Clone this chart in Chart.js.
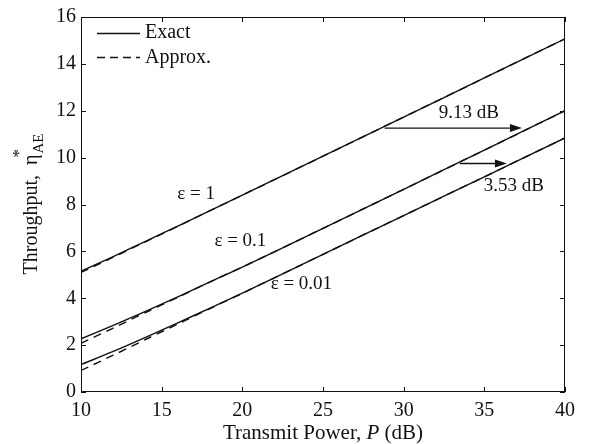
<!DOCTYPE html>
<html>
<head>
<meta charset="utf-8">
<script src="https://cdn.jsdelivr.net/npm/chart.js@4/dist/chart.umd.min.js"></script>
<style>
html,body{margin:0;padding:0;background:#fff;}
canvas{display:block;}
</style>
</head>
<body>
<canvas id="c" width="594" height="444"></canvas>
<script>
// ---- data ----
const powerDb = [10, 12, 14, 16, 18, 20, 25, 30, 35, 40];
const exactEps1   = [5.15, 5.78, 6.43, 7.08, 7.74, 8.40, 10.06, 11.73, 13.40, 15.07];
const exactEps01  = [2.27, 2.84, 3.44, 4.06, 4.70, 5.33, 6.98, 8.65, 10.32, 12.00];
const exactEps001 = [1.17, 1.73, 2.33, 2.95, 3.58, 4.22, 5.87, 7.53, 9.18, 10.84];
const approxEps1   = [5.10, 5.75, 6.41, 7.07, 7.74, 8.40, 10.06, 11.73, 13.40, 15.07];
const approxEps01  = [2.08, 2.73, 3.39, 4.04, 4.70, 5.33, 6.98, 8.65, 10.32, 12.00];
const approxEps001 = [0.92, 1.57, 2.24, 2.90, 3.56, 4.21, 5.87, 7.53, 9.18, 10.84];
const xTicks = [10, 15, 20, 25, 30, 35, 40];
const yTicks = [0, 2, 4, 6, 8, 10, 12, 14, 16];
const curveLabels = [
  {text: 'ε = 1', x: 17.14, y: 8.45},
  {text: 'ε = 0.1', x: 19.88, y: 6.43},
  {text: 'ε = 0.01', x: 23.66, y: 4.62},
  {text: '9.13 dB', x: 34.04, y: 11.89},
  {text: '3.53 dB', x: 36.83, y: 8.78}
];
const arrows = [
  {x0: 28.82, x1: 37.33, y: 11.26},
  {x0: 33.48, x1: 36.40, y: 9.75}
];

const FONT = '"Liberation Serif", "Times New Roman", serif';
const pts = arr => powerDb.map((x, i) => ({x: x, y: arr[i]}));
const solid = (arr) => ({data: pts(arr), borderColor: '#111', borderWidth: 1.4, pointRadius: 0, fill: false, tension: 0.3});
const dashed = (arr) => ({data: pts(arr), borderColor: '#111', borderWidth: 1.4, borderDash: [8, 6], pointRadius: 0, fill: false, tension: 0.3});

const decor = {
  id: 'decor',
  afterDatasetsDraw(chart) {
    const ctx = chart.ctx, a = chart.chartArea;
    const xs = chart.scales.x, ys = chart.scales.y;
    ctx.save();
    ctx.strokeStyle = '#111';
    ctx.lineWidth = 1;
    // frame
    ctx.strokeRect(a.left + 0.5, a.top + 0.5, a.right - a.left - 1, a.bottom - a.top - 1);
    // inward ticks
    xTicks.forEach(v => {
      const px = Math.round(xs.getPixelForValue(v)) + 0.5;
      ctx.beginPath();
      ctx.moveTo(px, a.bottom); ctx.lineTo(px, a.bottom - 5);
      ctx.moveTo(px, a.top); ctx.lineTo(px, a.top + 5);
      ctx.stroke();
    });
    yTicks.forEach(v => {
      const py = Math.round(ys.getPixelForValue(v)) + 0.5;
      ctx.beginPath();
      ctx.moveTo(a.left, py); ctx.lineTo(a.left + 5, py);
      ctx.moveTo(a.right, py); ctx.lineTo(a.right - 5, py);
      ctx.stroke();
    });
    // curve labels
    ctx.fillStyle = '#111';
    ctx.font = '19px ' + FONT;
    ctx.textAlign = 'center';
    ctx.textBaseline = 'middle';
    curveLabels.forEach(l => ctx.fillText(l.text, xs.getPixelForValue(l.x), ys.getPixelForValue(l.y)));
    // arrows
    arrows.forEach(ar => {
      const x0 = xs.getPixelForValue(ar.x0), x1 = xs.getPixelForValue(ar.x1), y = ys.getPixelForValue(ar.y);
      ctx.lineWidth = 1.3;
      ctx.beginPath(); ctx.moveTo(x0, y); ctx.lineTo(x1 - 8, y); ctx.stroke();
      ctx.beginPath(); ctx.moveTo(x1, y); ctx.lineTo(x1 - 12, y - 4); ctx.lineTo(x1 - 12, y + 4); ctx.closePath(); ctx.fill();
    });
    // legend
    ctx.lineWidth = 1.4;
    ctx.beginPath(); ctx.moveTo(97, 33.5); ctx.lineTo(140, 33.5); ctx.stroke();
    ctx.setLineDash([8, 5]);
    ctx.beginPath(); ctx.moveTo(97, 57.5); ctx.lineTo(140, 57.5); ctx.stroke();
    ctx.setLineDash([]);
    ctx.textAlign = 'left';
    ctx.font = '20px ' + FONT;
    ctx.fillText('Exact', 145, 33);
    ctx.fillText('Approx.', 145, 58);
    // x title
    ctx.textBaseline = 'alphabetic';
    const p1 = 'Transmit Power, ', p2 = 'P', p3 = ' (dB)';
    ctx.font = '21px ' + FONT;
    const w1 = ctx.measureText(p1).width, w3 = ctx.measureText(p3).width;
    ctx.font = 'italic 21px ' + FONT;
    const w2 = ctx.measureText(p2).width;
    const cx = (a.left + a.right) / 2;
    let sx = cx - (w1 + w2 + w3) / 2;
    const by = 439;
    ctx.font = '21px ' + FONT; ctx.fillText(p1, sx, by); sx += w1;
    ctx.font = 'italic 21px ' + FONT; ctx.fillText(p2, sx, by); sx += w2;
    ctx.font = '21px ' + FONT; ctx.fillText(p3, sx, by);
    // y title
    ctx.save();
    ctx.translate(37, (a.top + a.bottom) / 2);
    ctx.rotate(-Math.PI / 2);
    const t1 = 'Throughput,  η';
    ctx.font = '20px ' + FONT;
    const tw1 = ctx.measureText(t1).width;
    ctx.font = '15px ' + FONT;
    const tw2 = ctx.measureText('AE').width;
    let tx = -(tw1 + tw2) / 2;
    ctx.font = '20px ' + FONT; ctx.fillText(t1, tx, 0); tx += tw1;
    ctx.font = '15px ' + FONT; ctx.fillText('AE', tx + 1, 6);
    ctx.font = '17px ' + FONT; ctx.fillText('*', tx - 3, -13);
    ctx.restore();
    ctx.restore();
  }
};

new Chart(document.getElementById('c'), {
  type: 'line',
  data: {
    datasets: [
      dashed(approxEps1), dashed(approxEps01), dashed(approxEps001),
      solid(exactEps1), solid(exactEps01), solid(exactEps001)
    ]
  },
  options: {
    responsive: false,
    animation: false,
    layout: {padding: {top: 11, right: 29, left: 0, bottom: 0}},
    plugins: {legend: {display: false}, tooltip: {enabled: false}},
    scales: {
      x: {
        type: 'linear', min: 10, max: 40,
        afterBuildTicks: s => { s.ticks = xTicks.map(v => ({value: v})); },
        afterFit: s => { s.height = 52; },
        grid: {display: false, drawTicks: false},
        border: {display: false},
        ticks: {color: '#111', font: {family: FONT, size: 20}, padding: 7, maxRotation: 0}
      },
      y: {
        type: 'linear', min: 0, max: 16,
        afterBuildTicks: s => { s.ticks = yTicks.map(v => ({value: v})); },
        afterFit: s => { s.width = 81; },
        grid: {display: false, drawTicks: false},
        border: {display: false},
        ticks: {color: '#111', font: {family: FONT, size: 20}, padding: 5}
      }
    }
  },
  plugins: [decor]
});
</script>
</body>
</html>
